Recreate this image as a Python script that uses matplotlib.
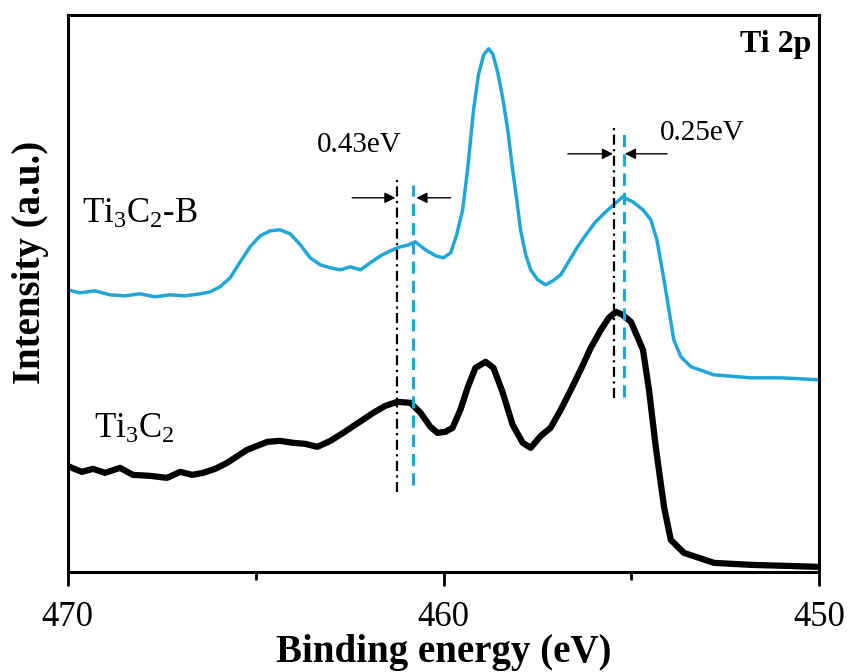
import numpy as np
import matplotlib.pyplot as plt
from matplotlib.ticker import MultipleLocator

plt.rcParams['font.family'] = ['Liberation Serif', 'DejaVu Serif']
plt.rcParams['mathtext.default'] = 'regular'

# Ti3C2-B (blue) spectrum, binding energy (eV) vs intensity (a.u.)
e_b = [470.0, 469.68, 469.28, 468.88, 468.48, 468.08, 467.68, 467.28, 466.88, 466.48,
       466.21, 465.95, 465.68, 465.41, 465.15, 464.88, 464.61, 464.35, 464.08, 463.81,
       463.55, 463.28, 463.01, 462.75, 462.48, 462.21, 461.95, 461.68, 461.41, 461.15,
       460.93, 460.75, 460.48, 460.21, 460.0, 459.81, 459.65, 459.49, 459.36, 459.2,
       459.07, 458.93, 458.8, 458.69, 458.56, 458.43, 458.29, 458.16, 458.05, 457.95,
       457.81, 457.68, 457.49, 457.28, 457.09, 456.88, 456.67, 456.45, 456.21, 455.95,
       455.68, 455.47, 455.23, 454.96, 454.69, 454.48, 454.32, 454.13, 454.0, 453.87,
       453.68, 453.41, 452.8, 451.81, 451.01, 450.48, 450.0]
i_b = [282, 279, 281, 277, 276, 278, 275, 277, 276, 278,
       280, 285, 294, 310, 325, 336, 341, 342, 338, 327,
       314, 307, 304, 302, 305, 302, 309, 316, 321, 325,
       327, 330, 322, 316, 314, 319, 337, 362, 402, 462,
       497, 517, 523, 518, 500, 475, 442, 402, 372, 342,
       317, 302, 292, 287, 291, 297, 310, 324, 337, 350,
       360, 367, 375, 370, 362, 352, 332, 292, 262, 232,
       215, 205, 197, 194, 194, 193, 192]

# Ti3C2 (black) spectrum
e_k = [470.0, 469.89, 469.63, 469.33, 469.01, 468.61, 468.27, 467.81, 467.36, 467.01,
       466.69, 466.4, 466.08, 465.76, 465.23, 464.69, 464.35, 464.0, 463.68, 463.36,
       463.01, 462.67, 462.27, 461.87, 461.55, 461.23, 460.88, 460.61, 460.35, 460.16,
       459.95, 459.76, 459.55, 459.36, 459.15, 458.88, 458.67, 458.43, 458.16, 457.89,
       457.68, 457.41, 457.15, 456.88, 456.61, 456.35, 456.08, 455.81, 455.6, 455.41,
       455.23, 455.01, 454.69, 454.53, 454.35, 454.13, 453.95, 453.6, 452.8, 451.81,
       450.88, 450.0]
i_k = [106, 104, 100, 103, 99, 104, 97, 96, 94, 100,
       97, 99, 103, 109, 122, 130, 131, 129, 128, 125,
       131, 139, 149, 159, 166, 170, 169, 159, 145, 139,
       140, 144, 162, 184, 204, 210, 204, 180, 147, 129,
       124, 136, 144, 162, 182, 202, 224, 242, 254, 260,
       257, 250, 222, 182, 125, 65, 32, 19, 9, 7,
       6, 5]

# peak positions (eV)
peak_k = [461.23, 455.45]
peak_b = [460.80, 455.20]
shift_labels = ['0.43eV', '0.25eV']

blue = '#21a6d8'

fig = plt.figure(figsize=(8.48, 6.72), dpi=100)
ax = fig.add_axes([0.080, 0.149, 0.886, 0.829])

ax.plot(e_b, i_b, color=blue, lw=2.5)
ax.plot(e_k, i_k, color='k', lw=4.5)

# vertical guide lines
dashdot = (0, (4.5, 2, 1, 2))
dashed = (0, (4, 2.3))
ax.plot([peak_k[0]] * 2, [80, 392], color='k', ls=dashdot, lw=1.6)
ax.plot([peak_b[0]] * 2, [87, 387], color=blue, ls=dashed, lw=2.2)
ax.plot([peak_k[1]] * 2, [174, 444], color='k', ls=dashdot, lw=1.6)
ax.plot([peak_b[1]] * 2, [175, 444], color=blue, ls=dashed, lw=2.2)

ap = dict(arrowstyle='-|>', color='k', lw=1.0, mutation_scale=16, shrinkA=0, shrinkB=0)
ax.annotate('', xy=(461.28, 374), xytext=(462.43, 374), arrowprops=ap)
ax.annotate('', xy=(460.72, 374), xytext=(459.81, 374), arrowprops=ap)
ax.annotate('', xy=(455.49, 418), xytext=(456.69, 418), arrowprops=ap)
ax.annotate('', xy=(455.17, 418), xytext=(454.05, 418), arrowprops=ap)

ax.text(462.24, 427, shift_labels[0], fontsize=21, ha='center', va='center')
ax.text(453.12, 439, shift_labels[1], fontsize=21, ha='center', va='center')

ax.text(469.62, 357, 'Ti$_3$C$_2$-B', fontsize=25, ha='left', va='center')
ax.text(469.3, 142, 'Ti$_3$C$_2$', fontsize=25, ha='left', va='center')
ax.text(450.2, 527, 'Ti 2p', fontsize=23, fontweight='bold', ha='right', va='center')

ax.set_xlim(470, 450)
ax.set_ylim(0, 557)
ax.xaxis.set_major_locator(MultipleLocator(10))
ax.xaxis.set_minor_locator(MultipleLocator(5))
ax.set_yticks([])
ax.tick_params(axis='x', which='major', direction='out', length=10, width=2, labelsize=25, pad=11)
ax.tick_params(axis='x', which='minor', direction='out', length=6, width=2)
for s in ax.spines.values():
    s.set_linewidth(2.2)

ax.set_xlabel('Binding energy (eV)', fontsize=28, fontweight='bold', labelpad=0)
ax.set_ylabel('Intensity (a.u.)', fontsize=28, fontweight='bold')
ax.yaxis.set_label_coords(-0.025, 0.556)

fig.savefig('out.png', dpi=100)
